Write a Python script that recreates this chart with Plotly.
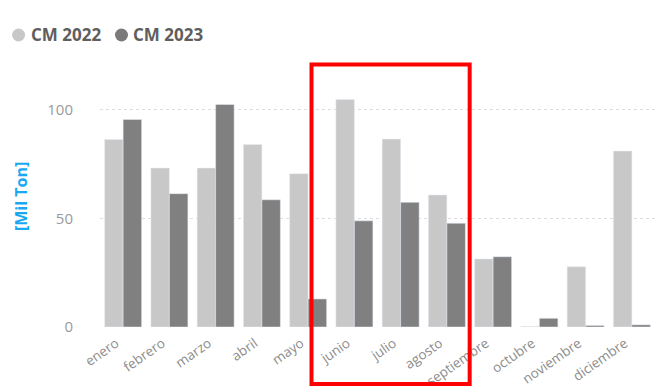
import plotly.graph_objects as go

# Monthly volumes in thousands of tons
meses = ["enero", "febrero", "marzo", "abril", "mayo", "junio", "julio",
         "agosto", "septiembre", "octubre", "noviembre", "diciembre"]
series_names = ["CM 2022", "CM 2023"]
cm_2022 = [86.2, 73.1, 73.1, 83.9, 70.5, 104.6, 86.4, 60.7, 31.3, 0.3, 27.7, 80.9]
cm_2023 = [95.4, 61.3, 102.3, 58.5, 12.9, 48.8, 57.3, 47.7, 32.3, 4.0, 0.7, 1.0]
y_ticks = [0, 50, 100]

colors = ["#C8C8C8", "#808080"]
key_colors = ["#C8C8C8", "#7A7A7A"]
font_family = "Open Sans, Noto Sans, sans-serif"

fig = go.Figure()
for name, values, color in zip(series_names, [cm_2022, cm_2023], colors):
    fig.add_trace(go.Bar(name=name, x=meses, y=values,
                         marker_color=color, showlegend=False))

# plot area in pixels
L, R, T, B = 100, 655.5, 92, 327
W, H = 670, 388
PX_PER_UNIT = 2.175


def px_x(px):
    return (px - L) / (R - L)


def px_y(py):
    return (B - py) / (B - T)


shapes = []
annotations = []

# legend: round keys followed by bold series names
legend_y = 35
legend_centers = [18.5, 121.5]
for name, color, cx in zip(series_names, key_colors, legend_centers):
    shapes.append(dict(type="circle", xref="paper", yref="paper",
                       xsizemode="pixel", ysizemode="pixel",
                       xanchor=px_x(cx), yanchor=px_y(legend_y),
                       x0=-6.5, x1=6.5, y0=-6.5, y1=6.5,
                       fillcolor=color, line=dict(width=0)))
    annotations.append(dict(text=name, xref="paper", yref="paper",
                            x=px_x(cx + 10), y=px_y(legend_y),
                            xanchor="left", yanchor="middle", showarrow=False,
                            font=dict(size=17, color="#605E5C", family=font_family,
                                      weight="bold")))

# axis title
annotations.append(dict(text="[Mil Ton]", textangle=-90, xref="paper", yref="paper",
                        x=px_x(21), y=px_y(197), xanchor="center", yanchor="middle",
                        showarrow=False,
                        font=dict(size=16, color="#1AA8F2", family=font_family,
                                  weight="bold")))

# highlight box around junio - agosto
shapes.append(dict(type="rect", xref="paper", yref="paper",
                   x0=px_x(311.7), x1=px_x(470), y0=px_y(384), y1=px_y(64.5),
                   line=dict(color="#FF0000", width=4), fillcolor="rgba(0,0,0,0)"))

fig.update_layout(
    width=W, height=H,
    margin=dict(l=L, r=W - R, t=T, b=H - B, pad=0),
    paper_bgcolor="white", plot_bgcolor="white",
    barmode="group", bargap=0.2, bargroupgap=0,
    font=dict(family=font_family),
    showlegend=False,
    xaxis=dict(tickangle=-35, tickfont=dict(size=13.5, color="#8C8C8C"),
               showgrid=False, showline=False, ticks="", automargin=False,
               ticklabelshift=-7, ticklabelstandoff=5),
    yaxis=dict(range=[0, (B - T) / PX_PER_UNIT], tickvals=y_ticks,
               tickfont=dict(size=15, color="#9A9A9A"),
               showgrid=True, gridcolor="#DDDDDD", griddash="dot", gridwidth=1,
               zeroline=False, showline=False, ticks="", automargin=False,
               ticklabelstandoff=26),
    annotations=annotations,
    shapes=shapes,
)

fig.write_html("out.html")
